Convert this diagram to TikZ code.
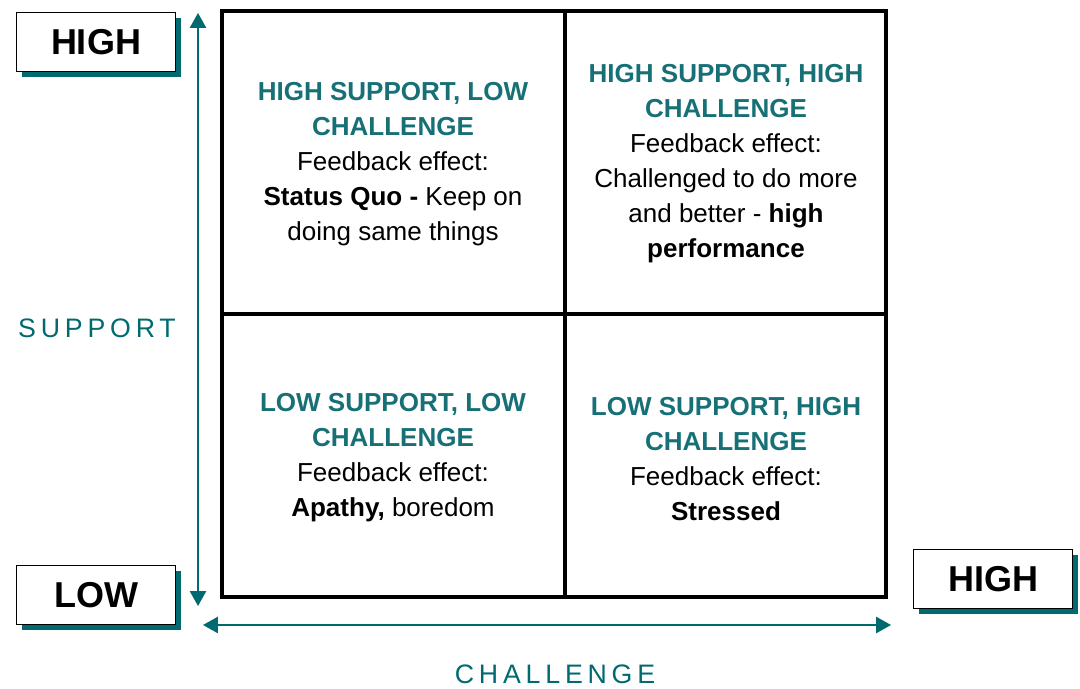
\documentclass[tikz,border=0pt]{standalone}
\usepackage{fontspec}
\setmainfont{Liberation Sans}
\newfontfamily\handfont[LetterSpace=18]{Liberation Sans}
\usetikzlibrary{arrows.meta,shadows}
\definecolor{axisteal}{RGB}{0,106,112}
\definecolor{headteal}{RGB}{22,112,118}
\newcommand{\headline}[1]{\textcolor{headteal}{\textbf{#1}}}

\tikzset{
  levelbox/.style={draw=black, line width=1.1pt, fill=white,
    minimum width=113pt, minimum height=42pt, inner sep=0pt,
    font=\fontsize{25.6}{28}\selectfont\bfseries,
    drop shadow={shadow xshift=3.6pt, shadow yshift=-3.6pt, fill=axisteal, opacity=1}},
  cell/.style={align=center, inner sep=0pt, font=\fontsize{18.5}{24.9}\selectfont},
  axis/.style={draw=axisteal, line width=1.1pt,
    {Triangle[length=10.5pt,width=11.5pt]}-{Triangle[length=10.5pt,width=11.5pt]}},
  axislabel/.style={text=axisteal, inner sep=0pt, font=\handfont\fontsize{19}{22}\selectfont}
}

\begin{document}
\begin{tikzpicture}[x=0.025cm, y=-0.025cm]
  \useasboundingbox (0,0) rectangle (1080,689);

  %%%%% grid %%%%%
  \draw[line width=3.2pt] (222,11) rectangle (886,597);
  \draw[line width=3.2pt] (565,11) -- (565,597);
  \draw[line width=3.2pt] (222,314) -- (886,314);

  %%%%% quadrants %%%%%
  \node[cell] (hsLc) at (393,164) {\headline{HIGH SUPPORT, LOW}\\\headline{CHALLENGE}\\Feedback effect:\\\textbf{Status Quo -} Keep on\\doing same things};
  \node[cell] (hsHc) at (726,164) {\headline{HIGH SUPPORT, HIGH}\\\headline{CHALLENGE}\\Feedback effect:\\Challenged to do more\\and better - \textbf{high}\\\textbf{performance}};
  \node[cell] (lsLc) at (393,458) {\headline{LOW SUPPORT, LOW}\\\headline{CHALLENGE}\\Feedback effect:\\\textbf{Apathy,} boredom};
  \node[cell] (lsHc) at (726,459) {\headline{LOW SUPPORT, HIGH}\\\headline{CHALLENGE}\\Feedback effect:\\\textbf{Stressed}};

  %%%%% level boxes %%%%%
  \node[levelbox] (supHigh) at (96,42) {HIGH};
  \node[levelbox] (supLow) at (96,595) {LOW};
  \node[levelbox] (chHigh) at (993,579) {HIGH};

  %%%%% axes %%%%%
  \coordinate (supTop) at (198,13);
  \coordinate (supBot) at (198,606);
  \coordinate (chLeft) at (203,625);
  \coordinate (chRight) at (891,625);
  \draw[axis] (supBot) -- (supTop);
  \draw[axis] (chLeft) -- (chRight);

  \node[axislabel] (supLabel) at (97,328) {SUPPORT};
  \node[axislabel] (chLabel) at (555,674) {CHALLENGE};
\end{tikzpicture}
\end{document}
